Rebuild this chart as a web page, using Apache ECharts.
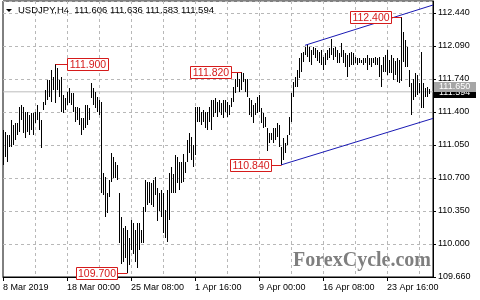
<!DOCTYPE html>
<html>
<head>
<meta charset="utf-8">
<script src="https://cdn.jsdelivr.net/npm/echarts@6/dist/echarts.min.js"></script>
<style>html,body{margin:0;padding:0;background:#fff}#c{width:480px;height:300px}</style>
</head>
<body>
<div id="c"></div>
<script>
// ---- data ----
const barHigh = [
111.21,111.19,111.16,111.16,111.31,111.26,111.28,111.28,111.45,111.47,
111.45,111.40,111.40,111.37,111.39,111.39,111.40,111.47,111.40,111.31,
111.50,111.63,111.73,111.73,111.84,111.77,111.90,111.86,111.73,111.77,
111.58,111.54,111.61,111.65,111.60,111.60,111.45,111.45,111.44,111.33,
111.33,111.47,111.47,111.44,111.70,111.65,111.61,111.56,111.52,111.50,
110.76,110.71,110.54,110.68,110.97,110.92,110.87,110.84,110.54,110.29,
110.18,110.20,110.15,110.07,110.26,110.23,110.15,110.23,110.23,110.16,
110.40,110.68,110.66,110.66,110.65,110.68,110.71,110.60,110.54,110.58,
110.54,110.37,110.58,110.76,110.82,110.74,110.94,110.92,110.87,110.87,
110.95,110.87,111.10,111.18,111.13,111.05,111.45,111.45,111.45,111.40,
111.42,111.40,111.40,111.45,111.52,111.52,111.55,111.50,111.52,111.49,
111.52,111.52,111.50,111.47,111.55,111.66,111.75,111.82,111.75,111.82,
111.81,111.75,111.75,111.55,111.52,111.47,111.49,111.56,111.58,111.44,
111.39,111.35,111.23,111.18,111.18,111.23,111.23,111.28,111.26,111.03,
111.12,111.07,111.16,111.35,111.60,111.71,111.77,111.84,111.97,112.02,
112.03,112.08,112.10,112.08,112.05,112.08,112.07,112.05,112.03,112.05,
111.98,112.02,112.05,112.07,112.17,112.07,112.08,112.05,112.02,112.12,
112.05,112.02,112.00,112.02,112.03,112.02,111.98,111.97,111.97,111.95,
111.97,111.97,112.00,111.97,111.97,111.97,111.98,111.97,111.98,111.89,
111.98,112.00,112.05,111.95,112.00,111.97,111.93,111.97,111.95,112.40,
112.24,112.16,112.08,111.84,111.70,111.75,111.81,111.79,111.70,112.03,
111.70,111.65,111.66,111.636
];
const barLow = [
110.84,110.92,110.87,111.03,111.03,111.05,111.10,111.16,111.19,111.31,
111.18,111.12,111.19,111.16,111.21,111.16,111.28,111.31,111.21,111.02,
111.42,111.47,111.52,111.56,111.50,111.63,111.49,111.63,111.56,111.40,
111.39,111.42,111.47,111.49,111.47,111.40,111.29,111.31,111.26,111.16,
111.21,111.23,111.26,111.31,111.54,111.47,111.44,111.40,111.37,110.54,
110.52,110.29,110.33,110.50,110.66,110.70,110.70,110.68,110.02,109.80,
109.82,109.86,109.70,109.79,109.94,109.90,109.82,109.76,109.94,110.02,
110.02,110.34,110.42,110.44,110.42,110.40,110.52,110.25,110.36,110.29,
110.12,110.07,110.03,110.26,110.54,110.54,110.54,110.65,110.58,110.65,
110.66,110.76,110.87,110.97,110.89,110.82,110.94,111.29,111.29,111.26,
111.29,111.23,111.21,111.29,111.21,111.35,111.39,111.35,111.40,111.37,
111.33,111.40,111.35,111.37,111.45,111.50,111.60,111.66,111.61,111.63,
111.71,111.61,111.56,111.37,111.35,111.28,111.37,111.39,111.40,111.28,
111.23,111.24,110.99,111.07,111.10,111.07,111.10,111.13,111.03,110.84,
110.89,110.97,111.05,111.16,111.29,111.56,111.66,111.66,111.76,111.82,
111.92,112.00,111.98,111.92,111.89,112.00,111.97,111.93,111.91,111.89,
111.84,111.89,111.95,111.97,112.00,111.95,111.98,111.91,111.91,111.98,
111.91,111.87,111.77,111.87,111.89,111.89,111.91,111.89,111.91,111.91,
111.89,111.91,111.84,111.89,111.87,111.91,111.89,111.89,111.77,111.66,
111.82,111.82,111.79,111.81,111.81,111.73,111.79,111.71,111.70,111.72,
111.92,111.87,111.87,111.66,111.37,111.52,111.56,111.58,111.60,111.44,
111.44,111.56,111.56,111.583
];
const slotCount = 216;                 // bars plus chart-shift space on the right
const xTickLabels = ['8 Mar 2019','18 Mar 00:00','25 Mar 08:00','1 Apr 16:00','9 Apr 00:00','16 Apr 08:00','23 Apr 16:00'];
const xLabelStep = 32;
const xGridStep = 16;
const yTickLabels = ['109.660','110.000','110.350','110.700','111.050','111.400','111.740','112.090','112.440'];
const yTickBase = 109.66, yTickStep = 0.3475;
const priceMin = 109.66, priceMax = 112.5664;
const noteIdx   = [26, 119, 199, 139, 62];
const notePrice = [111.900, 111.820, 112.400, 110.840, 109.700];
const noteSide  = [1, -1, -1, -1, -1];
const upperChannel = [[151, 112.10], [215, 112.524]];
const lowerChannel = [[139, 110.84], [215, 111.33]];
const bidLine = 111.61;
// drawn in this order: black (bid) first, grey box on top of it
const priceBoxes = [[111.594, '111.594', '#000000'], [111.660, '111.650', '#a6a6a6']];
const titleText = 'USDJPY,H4  111.606 111.636 111.583 111.594';

const categories = [];
for (let i = 0; i < slotCount; i++) categories.push(i);

const chart = echarts.init(document.getElementById('c'), null, {renderer: 'canvas'});
const FONT = 'Liberation Sans, Arial, sans-serif';
const gridLine = {show: true, lineStyle: {color: '#b8b8b8', type: [3, 3], width: 1}};

chart.setOption({
  animation: false,
  backgroundColor: '#fff',
  grid: {left: 3, right: 47, top: 1, bottom: 23, show: true, borderColor: '#000', borderWidth: 1, backgroundColor: 'transparent'},
  xAxis: {
    type: 'category', data: categories, boundaryGap: false,
    axisLine: {show: true, lineStyle: {color: '#000'}},
    axisTick: {show: true, length: 4, interval: (i) => i % xLabelStep === 0, lineStyle: {color: '#000'}},
    axisLabel: {
      show: true, interval: (i) => i % xLabelStep === 0, align: 'left', margin: 6,
      color: '#000', fontFamily: FONT, fontSize: 9,
      formatter: (v, i) => (i % xLabelStep === 0 ? xTickLabels[i / xLabelStep] : '')
    },
    splitLine: Object.assign({interval: (i) => i % xGridStep === 0 && i > 0}, gridLine)
  },
  yAxis: [
    {type: 'value', min: priceMin, max: priceMax, show: false, position: 'right'},
    {
      type: 'value', position: 'right', min: 0, max: (priceMax - yTickBase) / yTickStep, interval: 1,
      axisLine: {show: true, lineStyle: {color: '#000'}},
      axisTick: {show: true, length: 3, lineStyle: {color: '#000'}},
      axisLabel: {
        show: true, margin: 5, color: '#000', fontFamily: FONT, fontSize: 9,
        showMaxLabel: false,
        formatter: (v) => {
          const k = Math.round(v);
          return Math.abs(v - k) < 1e-6 && yTickLabels[k] ? yTickLabels[k] : '';
        }
      },
      splitLine: gridLine
    }
  ],
  graphic: [
    {type: 'polygon', shape: {points: [[6, 9], [12, 9], [9, 12]]}, style: {fill: '#000'}},
    {type: 'text', left: 18, top: 5, style: {text: titleText, fill: '#000', font: '9.5px ' + FONT}},
    {type: 'text', right: 49, top: 251, style: {text: 'ForexCycle.com', fill: '#7f7f7f', font: 'bold 20px Liberation Serif, serif'}}
  ],
  series: [
    {
      type: 'line', yAxisIndex: 0, data: [[0, bidLine], [slotCount - 1, bidLine]],
      symbol: 'none', silent: true, lineStyle: {color: '#bdbdbd', width: 1}, z: 1
    },
    {
      type: 'custom', yAxisIndex: 0, z: 3,
      data: barHigh.map((h, i) => [i, barLow[i], h]),
      encode: {x: 0, y: [1, 2]},
      renderItem: (params, api) => {
        const i = api.value(0);
        const top = api.coord([i, api.value(2)]);
        const bot = api.coord([i, api.value(1)]);
        const y0 = Math.round(top[1]);
        return {
          type: 'rect',
          shape: {x: Math.round(top[0]), y: y0, width: 1, height: Math.max(1, Math.round(bot[1]) - y0)},
          style: {fill: '#000'}
        };
      }
    },
    {
      type: 'line', yAxisIndex: 0, data: upperChannel, symbol: 'none', z: 4,
      lineStyle: {color: '#1a1ab4', width: 1}
    },
    {
      type: 'line', yAxisIndex: 0, data: lowerChannel, symbol: 'none', z: 4,
      lineStyle: {color: '#1a1ab4', width: 1}
    },
    {
      type: 'custom', yAxisIndex: 0, z: 5, clip: false,
      data: noteIdx.map((ix, k) => [ix, notePrice[k], noteSide[k]]),
      encode: {x: 0, y: 1},
      renderItem: (params, api) => {
        const p = api.coord([api.value(0), api.value(1)]);
        const side = api.value(2);
        const txt = api.value(1).toFixed(3);
        const px = Math.round(p[0]) + 0.5, py = Math.round(p[1]) + 0.5;
        const link = side > 0 ? 12 : 10;
        const bw = 41, bh = 12;
        const bx = side > 0 ? px + link : px - link - bw;
        const red = '#d51a1a';
        return {
          type: 'group',
          children: [
            {type: 'line', shape: {x1: px, y1: py, x2: side > 0 ? bx : bx + bw, y2: py}, style: {stroke: red, lineWidth: 1}},
            {type: 'rect', shape: {x: bx, y: py - 6, width: bw, height: bh}, style: {fill: '#fff', stroke: red, lineWidth: 1}},
            {type: 'text', style: {text: txt, x: bx + bw / 2, y: py + 0.5, align: 'center', verticalAlign: 'middle', fill: red, font: '10.5px ' + FONT}}
          ]
        };
      }
    },
    {
      type: 'custom', yAxisIndex: 0, z: 6, clip: false,
      data: priceBoxes.map((b) => [slotCount - 1, b[0], b[1], b[2]]),
      encode: {x: 0, y: 1},
      renderItem: (params, api) => {
        const b = priceBoxes[params.dataIndex];
        const p = api.coord([slotCount - 1, b[0]]);
        const x = Math.round(p[0]) + 1, y = Math.round(p[1]);
        return {
          type: 'group',
          children: [
            {type: 'rect', shape: {x: x, y: y - 5, width: 42, height: 10}, style: {fill: b[2]}},
            {type: 'text', style: {text: b[1], x: x + 5, y: y, align: 'left', verticalAlign: 'middle', fill: '#fff', font: '9px ' + FONT}}
          ]
        };
      }
    }
  ]
});
</script>
</body>
</html>
